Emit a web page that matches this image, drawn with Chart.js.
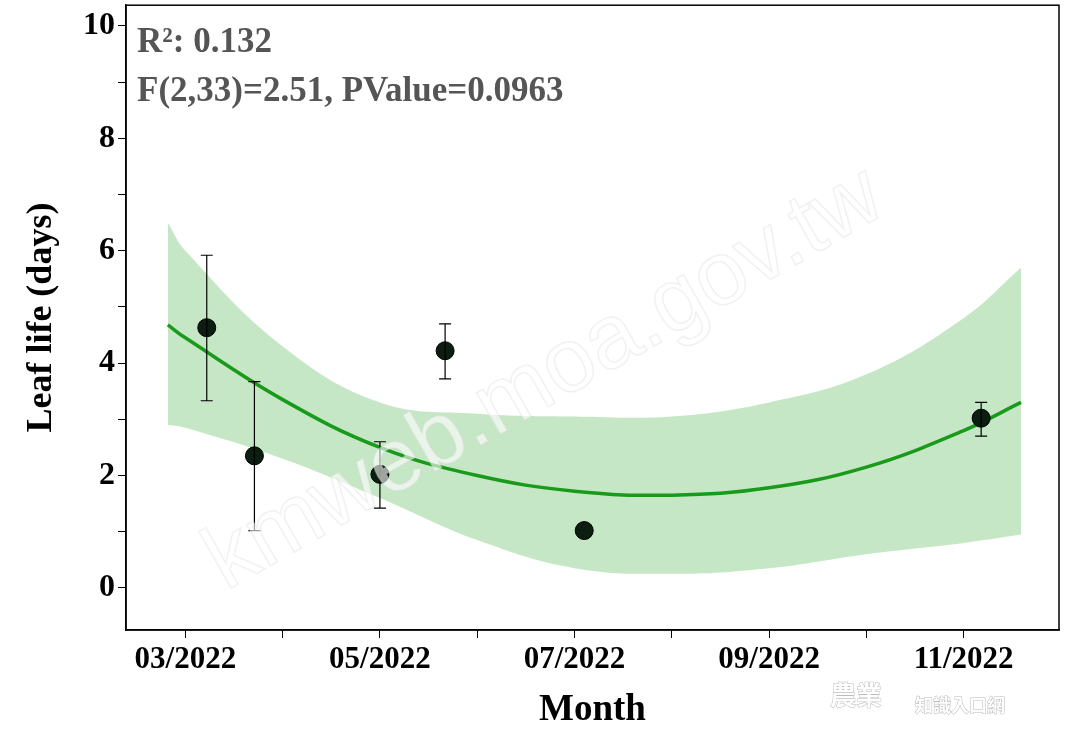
<!DOCTYPE html>
<html><head><meta charset="utf-8">
<script src="https://cdn.jsdelivr.net/npm/chart.js@4"></script>
<style>html,body{margin:0;padding:0;background:#fff;overflow:hidden}#w{width:1080px;height:754px;margin-top:-17px}</style>
</head><body><div id="w"><canvas id="c"></canvas></div>
<script>
const pointMonths=[3.22,3.71,5.0,5.67,7.1,11.18];
const pointValues=[4.63,2.35,2.02,4.22,1.02,3.02];
const errLow=[3.33,1.02,1.42,3.72,1.02,2.7];
const errHigh=[5.92,3.67,2.6,4.7,1.02,3.3];
const fitMonths=[2.82,3,4,5,6,7,8,9,10,11,11.59];
const fitValues=[4.68,4.45,3.35,2.5,2.0,1.72,1.65,1.78,2.15,2.8,3.3];
const bandUpper=[6.5,6.0,4.3,3.3,3.1,3.05,3.05,3.3,3.8,4.8,5.7];
const bandLower=[2.9,2.85,2.3,1.6,0.85,0.35,0.25,0.35,0.6,0.8,0.95];
const xTickLabels={3:'03/2022',5:'05/2022',7:'07/2022',9:'09/2022',11:'11/2022'};
const annot=['R²: 0.132','F(2,33)=2.51, PValue=0.0963'];
const F='"Liberation Serif", serif';
const xy=(xs,ys)=>xs.map((x,i)=>({x,y:ys[i]}));
const extras={id:'extras',
 afterDatasetsDraw(ch){
  const c=ch.ctx,xs=ch.scales.x,ys=ch.scales.y,a=ch.chartArea;
  c.save();c.strokeStyle='#000';c.lineWidth=1.2;
  pointMonths.forEach((m,i)=>{if(errHigh[i]-errLow[i]<0.01)return;
   const px=xs.getPixelForValue(m),y1=ys.getPixelForValue(errLow[i]),y2=ys.getPixelForValue(errHigh[i]);
   c.beginPath();c.moveTo(px,y1);c.lineTo(px,y2);c.moveTo(px-6,y1);c.lineTo(px+6,y1);c.moveTo(px-6,y2);c.lineTo(px+6,y2);c.stroke();});
  c.lineWidth=1.5;c.strokeRect(a.left,a.top,a.right-a.left,a.bottom-a.top);
  c.fillStyle='#555';c.font='bold 35px '+F;c.textBaseline='alphabetic';
  c.fillText(annot[0],137,a.top+47);c.fillText(annot[1],137,a.top+96);
  c.restore();
 },
 afterDraw(ch){const c=ch.ctx;c.save();
  c.translate(545,397);c.rotate(-0.52);c.font='90px "Liberation Sans", sans-serif';
  c.fillStyle='rgba(255,255,255,0.6)';c.strokeStyle='rgba(210,210,210,0.3)';c.lineWidth=1.5;
  c.textAlign='center';c.textBaseline='middle';c.fillText('kmweb.moa.gov.tw',0,0);c.strokeText('kmweb.moa.gov.tw',0,0);c.restore();
  c.save();c.font='bold 26px "Noto Sans CJK TC"';c.fillStyle='#fff';c.strokeStyle='#bbb';c.lineWidth=1;
  c.strokeText('農業',830,722);c.fillText('農業',830,722);c.font='bold 18px "Noto Sans CJK TC"';
  c.strokeText('知識入口網',915,729);c.fillText('知識入口網',915,729);c.restore();}
};
new Chart(document.getElementById('c'),{
 type:'scatter',
 data:{datasets:[
  {type:'line',data:xy(fitMonths,bandLower),borderWidth:0,pointRadius:0,fill:false,tension:0.4,order:3},
  {type:'line',data:xy(fitMonths,bandUpper),borderWidth:0,pointRadius:0,fill:'-1',backgroundColor:'rgba(160,215,160,0.6)',tension:0.4,order:3},
  {type:'line',data:xy(fitMonths,fitValues),borderColor:'#1a9a1a',borderWidth:3.5,pointRadius:0,fill:false,tension:0.4,order:2},
  {data:xy(pointMonths,pointValues),backgroundColor:'#0b1e10',borderColor:'#000',pointRadius:9,order:1}
 ]},
 options:{responsive:true,maintainAspectRatio:false,animation:false,
  layout:{padding:{top:0,right:21,left:0,bottom:0}},
  plugins:{legend:{display:false},tooltip:{enabled:false}},
  scales:{
   x:{type:'linear',min:2.39,max:11.98,
    afterBuildTicks(s){s.ticks=[3,4,5,6,7,8,9,10,11].map(v=>({value:v}));},
    afterFit(s){s.height=107;},
    grid:{drawOnChartArea:false,tickLength:8,color:'#000'},border:{color:'#000',width:1.5},
    ticks:{color:'#000',font:{family:F,weight:'bold',size:31},maxRotation:0,autoSkip:false,callback:v=>xTickLabels[v]||''},
    title:{display:true,text:'Month',color:'#000',font:{family:F,weight:'bold',size:37},padding:{top:0}}},
   y:{min:-0.75,max:10.37,
    afterBuildTicks(s){s.ticks=[0,1,2,3,4,5,6,7,8,9,10].map(v=>({value:v}));},
    afterFit(s){s.width=126;},
    grid:{drawOnChartArea:false,tickLength:8,color:'#000'},border:{color:'#000',width:1.5},
    ticks:{color:'#000',font:{family:F,weight:'bold',size:32},autoSkip:false,callback:v=>v%2===0?String(v):''},
    title:{display:true,text:'Leaf life (days)',color:'#000',font:{family:F,weight:'bold',size:36},padding:{top:20,bottom:0}}}
  }}
,plugins:[extras]});
</script></body></html>
